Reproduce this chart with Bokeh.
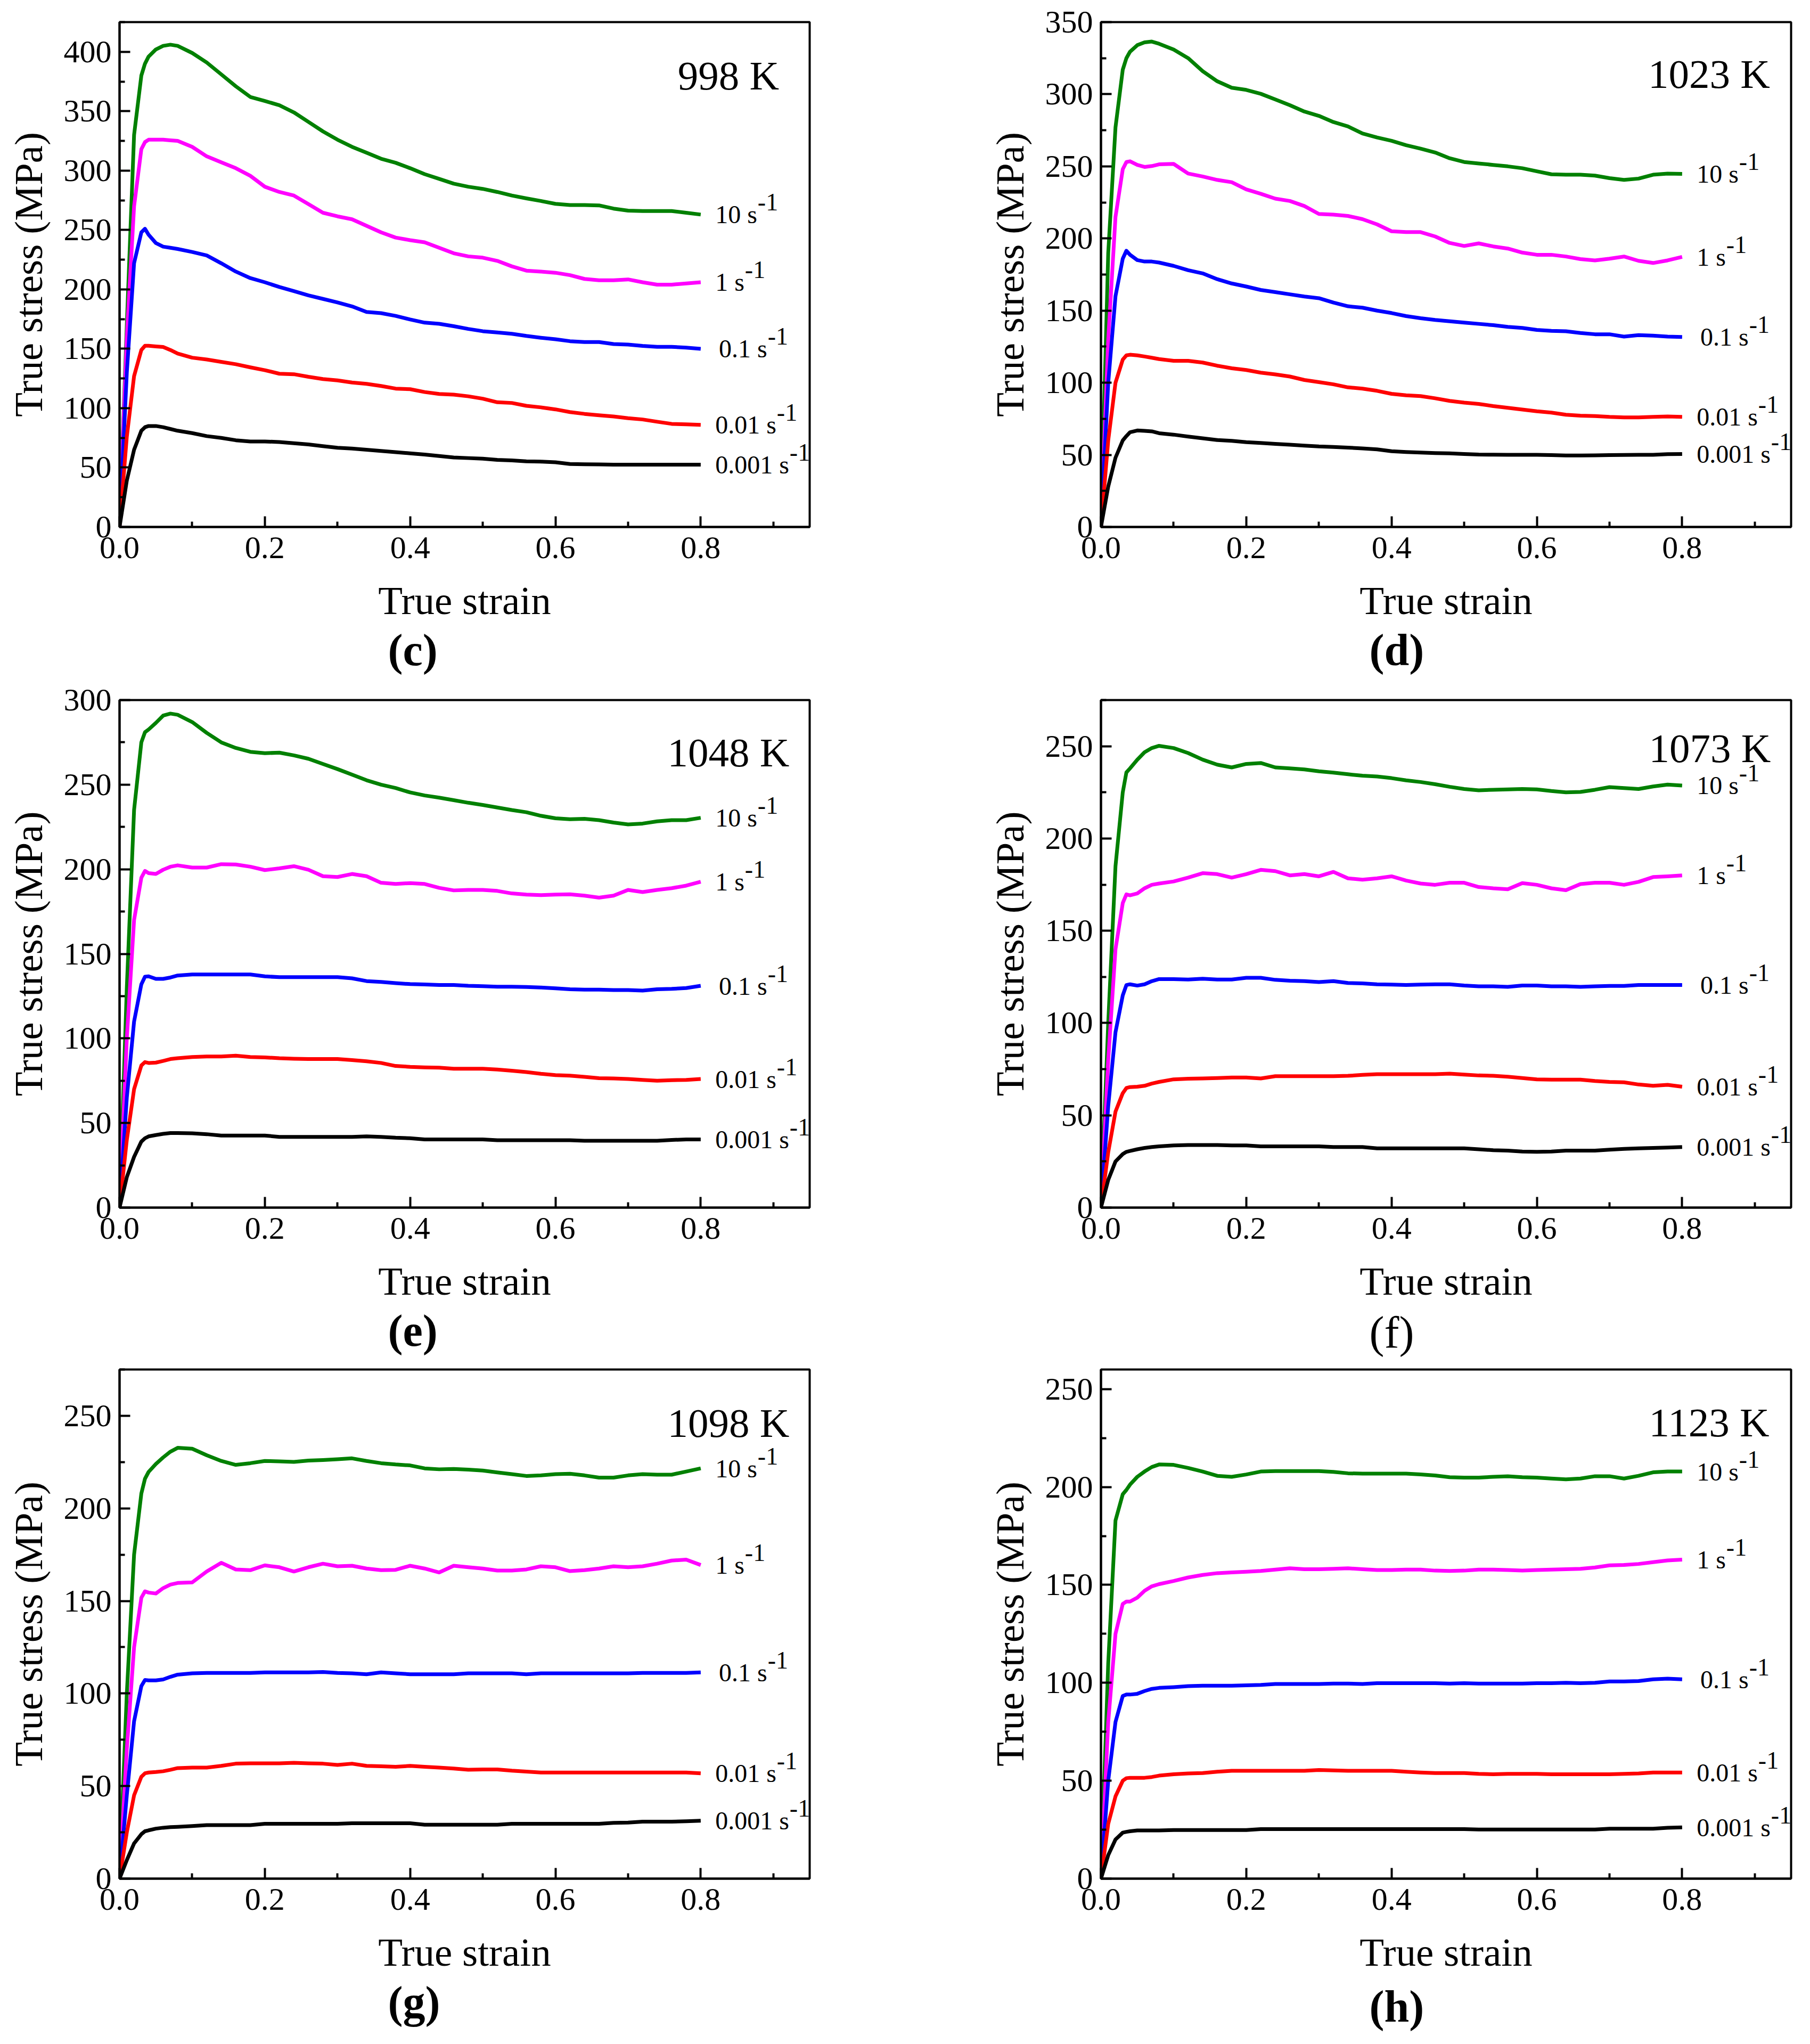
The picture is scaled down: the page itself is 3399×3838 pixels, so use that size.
from bokeh.core.properties import value
from bokeh.embed import file_html
from bokeh.layouts import column, row
from bokeh.models import ColumnDataSource, FixedTicker, NumeralTickFormatter, Range1d, Title
from bokeh.plotting import figure
from bokeh.resources import INLINE

# true strain grid shared by every curve
STRAIN = [0, 0.01, 0.02, 0.03, 0.035, 0.04, 0.05, 0.06, 0.07, 0.08,
          0.10, 0.12, 0.14, 0.16, 0.18, 0.20, 0.22, 0.24, 0.26, 0.28,
          0.30, 0.32, 0.34, 0.36, 0.38, 0.40, 0.42, 0.44, 0.46, 0.48,
          0.50, 0.52, 0.54, 0.56, 0.58, 0.60, 0.62, 0.64, 0.66, 0.68,
          0.70, 0.72, 0.74, 0.76, 0.78, 0.80]

RATES = ["10 s", "1 s", "0.1 s", "0.01 s", "0.001 s"]
TEMPS = ["998 K", "1023 K", "1048 K", "1073 K", "1098 K", "1123 K"]
TAGS = ["c", "d", "e", "f", "g", "h"]
Y_MAX = [425, 350, 300, 275, 275, 260]

# true stress (MPa), one list per strain rate
T998_10 = [0, 170, 330, 380, 390, 396, 402, 405, 406, 405,
           399, 391, 381, 371, 362, 358.6, 355, 349, 341, 333,
           326, 320, 315, 310, 306.6, 302, 297, 293, 289, 286.4,
           284.6, 282, 279, 276.6, 274.4, 272, 271, 271, 270.7, 268,
           266.3, 266, 266, 266, 264.5, 263]
T998_1 = [0, 160, 270, 318, 324, 326, 326, 326, 325.5, 325,
          320, 312, 307, 302, 295.6, 286.4, 282, 279, 271.8, 264.5,
          261.5, 259, 253.5, 248, 243.6, 241.4, 239.6, 235, 230.4, 227.8,
          226.7, 224, 219.4, 215.8, 215, 214, 212, 208.8, 207.7, 207.7,
          208.4, 206, 204, 204, 205, 206]
T998_01 = [0, 130, 222, 248, 251, 246, 239, 236, 235, 234,
           231.5, 228.6, 222, 215, 209.5, 206, 202, 198.5, 195, 192,
           189, 185.7, 181, 180, 177.7, 174.7, 172, 171, 169, 166.7,
           164.8, 163.7, 162.6, 160.8, 159.3, 158, 156.4, 155.7, 155.7, 154,
           153.5, 152.4, 151.6, 151.6, 151, 150]
T998_001 = [0, 76, 127, 149, 152.5, 152.5, 152, 151.5, 149, 146,
            142.5, 141, 139, 137, 134.4, 132, 129, 128.6, 126.4, 124.5,
            123.4, 121.6, 120.5, 118.7, 116.5, 116, 113.6, 112, 111.4, 110,
            108, 105, 104.4, 102, 100.7, 99, 96.7, 95.2, 94, 93,
            91.6, 90.5, 88.6, 86.8, 86.4, 86]
T998_0001 = [0, 39, 65, 81, 84, 85, 85, 84, 82.5, 81,
             79, 76.5, 75, 73, 72, 72, 71.5, 70.5, 69.5, 68,
             66.7, 66, 65, 64, 63, 62, 61, 59.7, 58.5, 58,
             57.5, 56.5, 56, 55.3, 55, 54.5, 53, 52.8, 52.7, 52.5,
             52.4, 52.4, 52.4, 52.4, 52.4, 52.4]

T1023_10 = [0, 190, 277, 317, 325, 329.5, 334, 336, 336.5, 335,
            331, 325, 316, 309, 304.5, 303, 300.3, 296.4, 292.4, 288,
            285, 280.7, 277.7, 272.8, 270, 267.7, 264.7, 262.3, 259.6, 255.6,
            253, 252, 251, 250, 248.7, 246.6, 244.5, 244.2, 244.2, 243.6,
            241.8, 240.6, 241.5, 244.2, 245, 244.8]
T1023_1 = [0, 130, 215, 248, 253, 253.5, 251, 249.6, 250.2, 251.4,
           251.7, 245, 243, 240.6, 239, 234, 231, 227.6, 226, 222.5,
           217, 216.5, 215.6, 213.4, 209.8, 205, 204.4, 204.4, 201.4, 196.9,
           194.8, 196.6, 194.5, 193, 190.2, 188.7, 188.7, 187.5, 185.7, 184.8,
           186, 187.5, 184.5, 183, 184.8, 187.2]
T1023_01 = [0, 100, 160, 186, 191.5, 188.7, 185, 184, 184, 183.3,
            181, 178, 175.8, 171.8, 168.8, 166.7, 164.3, 162.8, 161.3, 159.8,
            158.6, 155.6, 153, 152, 150, 148.3, 146.2, 144.7, 143.5, 142.6,
            141.7, 140.8, 139.9, 138.7, 138, 136.6, 136, 135.7, 134.5, 133.6,
            133.6, 132, 133, 132.6, 132, 131.7]
T1023_001 = [0, 60, 100, 116, 119, 119.4, 119, 118.2, 117.3, 116.4,
             115.2, 115.2, 114, 111.8, 110, 108.8, 107, 105.8, 104.3, 101.9,
             100.4, 98.9, 96.8, 95.9, 94.4, 92.3, 91.3, 90.7, 89.2, 87.4,
             86.2, 85.3, 83.8, 82.6, 81.4, 80.2, 79.3, 77.8, 77.2, 76.9,
             76.3, 76, 76, 76.3, 76.6, 76.3]
T1023_0001 = [0, 28, 48, 60, 63, 65.7, 66.9, 66.6, 66.3, 65,
              64, 62.7, 61.5, 60.3, 59.7, 58.8, 58.2, 57.6, 57, 56.4,
              55.8, 55.5, 55, 54.5, 53.8, 52.5, 52, 51.6, 51.2, 51,
              50.6, 50.2, 50.1, 50, 50, 50, 49.8, 49.6, 49.6, 49.7,
              49.8, 49.9, 50, 50, 50.5, 50.6]

T1048_10 = [0, 130, 235, 275, 281, 282.6, 286.5, 290.8, 292, 291.3,
            287, 280.6, 275, 271.7, 269.4, 268.6, 268.9, 267.3, 265.3, 262.2,
            259.2, 255.9, 252.6, 250, 248, 245.4, 243.6, 242.3, 240.8, 239.3,
            238, 236.5, 235, 233.7, 231.6, 230.1, 229.6, 229.8, 229, 227.6,
            226.5, 227, 228.3, 229, 229, 230.4]
T1048_1 = [0, 100, 170, 195, 199, 197.7, 197.2, 199.7, 201.5, 202.3,
           201, 201, 203, 202.8, 201.5, 199.5, 200.5, 201.8, 199.7, 195.9,
           195.4, 197.2, 195.9, 192, 191.3, 191.8, 191.3, 189, 187.5, 187.8,
           187.8, 187.2, 185.7, 185, 184.7, 185, 185.2, 184.4, 183.2, 184.4,
           187.8, 186.5, 187.8, 188.8, 190.3, 192.6]
T1048_01 = [0, 65, 110, 132, 136.5, 136.7, 135.2, 135.2, 136, 137.2,
            137.8, 137.8, 137.8, 137.8, 137.8, 136.7, 136.2, 136.2, 136.2, 136.2,
            136.2, 135.5, 133.9, 133.4, 132.7, 132.1, 131.9, 131.6, 131.6, 131.1,
            130.9, 130.6, 130.6, 130.4, 130.1, 129.6, 129.1, 128.8, 128.8, 128.6,
            128.6, 128.3, 129.1, 129.3, 129.8, 131.1]
T1048_001 = [0, 40, 70, 84, 86, 85.5, 85.7, 86.7, 87.8, 88.3,
             89, 89.3, 89.3, 89.8, 89, 88.8, 88.3, 88, 87.8, 87.8,
             87.8, 87.2, 86.5, 85.5, 83.7, 83.2, 82.9, 82.7, 82.1, 82.1,
             82.1, 81.6, 80.9, 80.1, 79.1, 78.3, 78, 77.3, 76.5, 76.3,
             76, 75.5, 75, 75.3, 75.5, 76]
T1048_0001 = [0, 18, 30, 39, 41, 42.1, 42.9, 43.6, 44.1, 44.1,
              43.9, 43.4, 42.6, 42.6, 42.6, 42.6, 41.8, 41.8, 41.8, 41.8,
              41.8, 41.8, 42.1, 41.8, 41.3, 41, 40.3, 40.3, 40.3, 40.3,
              40.3, 39.8, 39.8, 39.8, 39.8, 39.8, 39.8, 39.5, 39.5, 39.5,
              39.5, 39.5, 39.5, 40, 40.3, 40.3]

T1073_10 = [0, 100, 185, 225, 235.8, 238, 242.7, 246.7, 249, 250.2,
            249, 246.3, 242.7, 240, 238.5, 240.4, 240.9, 238.5, 238, 237.4,
            236.4, 235.7, 234.8, 234, 233.6, 232.7, 231.5, 230.6, 229.4, 228,
            226.8, 226.1, 226.4, 226.6, 226.8, 226.6, 225.7, 225, 225.2, 226.4,
            227.8, 227.3, 226.8, 228.2, 229.2, 228.7]
T1073_1 = [0, 80, 140, 165, 169.7, 169.2, 170.2, 173, 174.9, 175.6,
           176.7, 178.8, 181.2, 180.7, 178.8, 180.7, 183, 182.3, 180, 180.7,
           179.5, 181.9, 178.4, 177.7, 178.4, 179.5, 177.2, 175.6, 174.9, 176,
           176, 173.7, 173, 172.5, 175.8, 174.9, 173, 172, 175.3, 176,
           176, 174.9, 176.5, 179.1, 179.5, 180]
T1073_01 = [0, 55, 95, 115, 120.6, 121, 120.3, 121, 122.7, 123.8,
            123.8, 123.6, 124, 123.6, 123.6, 124.5, 124.5, 123.4, 122.9, 122.7,
            122.2, 122.7, 121.7, 121.5, 121, 120.8, 120.6, 120.8, 121, 121,
            120.3, 119.9, 119.9, 119.6, 120.3, 120.3, 119.9, 119.9, 119.6, 119.9,
            120.1, 120.1, 120.6, 120.6, 120.6, 120.6]
T1073_001 = [0, 30, 52, 62, 64.8, 65.3, 65.5, 66, 67.2, 68.1,
             69.5, 69.8, 70, 70.2, 70.5, 70.5, 70, 71.2, 71.2, 71.2,
             71.2, 71.2, 71.4, 71.9, 72.3, 72.3, 72.3, 72.3, 72.3, 72.6,
             72.1, 71.6, 71.4, 70.9, 70.2, 69.5, 69.3, 69.3, 69.3, 68.6,
             68.1, 67.9, 66.7, 66, 66.5, 65.5]
T1073_0001 = [0, 15, 25, 29, 30.2, 30.7, 31.6, 32.3, 32.8, 33.2,
              33.7, 33.9, 33.9, 33.9, 33.7, 33.7, 33.2, 33.2, 33.2, 33.2,
              33.2, 32.8, 32.8, 32.8, 32.1, 32.1, 32.1, 32.1, 32.1, 32.1,
              32.1, 31.6, 31.1, 30.9, 30.4, 30.2, 30.4, 30.9, 30.9, 30.9,
              31.4, 31.8, 32.1, 32.3, 32.5, 32.8]

T1098_10 = [0, 100, 175, 208, 216, 219.7, 224, 227.5, 230.6, 232.7,
            232.2, 228.7, 225.6, 223.5, 224.4, 225.6, 225.4, 225.1, 225.8, 226.1,
            226.5, 227, 225.6, 224.4, 223.7, 223.2, 221.6, 221.1, 221.3, 220.9,
            220.4, 219.4, 218.5, 217.5, 217.8, 218.5, 218.7, 217.8, 216.6, 216.6,
            217.8, 218.5, 218.2, 218.2, 219.9, 221.6]
T1098_1 = [0, 70, 125, 151.7, 155.2, 154.5, 154, 156.9, 158.8, 159.7,
           160, 165.9, 170.6, 167, 166.6, 169.2, 168.2, 165.9, 168.2, 170.1,
           168.7, 169, 167.5, 166.6, 166.8, 169, 167.5, 165.4, 169, 168.2,
           167.5, 166.4, 166.4, 167, 168.7, 168.2, 166.1, 166.6, 167.5, 168.7,
           168.2, 168.7, 170.1, 171.8, 172.3, 169.4]
T1098_01 = [0, 45, 85, 104, 107.3, 107.1, 107.1, 107.6, 109, 110.2,
            110.9, 111.1, 111.1, 111.1, 111.1, 111.4, 111.4, 111.4, 111.4, 111.6,
            111.1, 110.9, 110.4, 111.4, 110.9, 110.4, 110.4, 110.4, 110.4, 110.9,
            110.9, 110.9, 110.9, 110.4, 110.9, 110.9, 110.9, 110.9, 110.9, 110.9,
            110.9, 111.1, 111.1, 111.1, 111.1, 111.4]
T1098_001 = [0, 25, 45, 55, 56.9, 57.3, 57.6, 58, 58.8, 59.7,
             60, 60, 60.9, 62.1, 62.3, 62.3, 62.3, 62.6, 62.3, 62.1,
             61.4, 62.1, 60.9, 60.7, 60.4, 60.9, 60.4, 60, 59.5, 58.8,
             59, 59, 58.3, 57.8, 57.3, 57.3, 57.3, 57.3, 57.3, 57.3,
             57.3, 57.3, 57.3, 57.3, 57.3, 56.9]
T1098_0001 = [0, 10, 19, 24, 25.6, 26.1, 27, 27.5, 27.8, 28,
              28.4, 28.9, 28.9, 28.9, 28.9, 29.6, 29.6, 29.6, 29.6, 29.6,
              29.6, 29.9, 29.9, 29.9, 29.9, 29.9, 29.1, 29.1, 29.1, 29.1,
              29.1, 29.1, 29.6, 29.6, 29.6, 29.6, 29.6, 29.6, 29.6, 30.1,
              30.3, 30.8, 30.8, 30.8, 31, 31.3]

T1123_10 = [0, 110, 182.9, 196.3, 198.5, 201.2, 205.2, 207.9, 210.2, 211.5,
            211.3, 209.7, 207.9, 205.7, 205.2, 206.4, 207.9, 208.1, 208.1, 208.1,
            208.1, 207.7, 207, 206.8, 206.8, 206.8, 206.8, 206.4, 205.9, 205,
            204.8, 204.8, 205.2, 205.5, 205, 204.8, 204.3, 203.9, 204.3, 205.5,
            205.5, 204.3, 205.7, 207.5, 207.9, 207.9]
T1123_1 = [0, 80, 125, 140.3, 141.5, 141.5, 143.5, 147, 149.3, 150.4,
           152, 153.8, 155.1, 156, 156.4, 156.7, 157.1, 157.8, 158.5, 158,
           158, 158.2, 158.5, 158, 157.6, 157.6, 157.8, 157.8, 157.3, 157.1,
           157.3, 157.8, 157.8, 157.6, 157.3, 157.6, 157.8, 158, 158.2, 158.9,
           160, 160.2, 160.7, 161.6, 162.5, 162.9]
T1123_01 = [0, 50, 80, 93.3, 94, 94, 94.4, 95.8, 96.9, 97.4,
            97.8, 98.3, 98.5, 98.5, 98.5, 98.7, 98.9, 99.4, 99.4, 99.4,
            99.4, 99.6, 99.6, 99.4, 99.8, 99.8, 99.8, 99.8, 99.8, 99.6,
            99.8, 99.6, 99.6, 99.6, 99.6, 99.8, 99.8, 100, 99.8, 100,
            100.7, 100.7, 100.9, 101.8, 102.1, 101.8]
T1123_001 = [0, 28, 42, 50, 51.3, 51.5, 51.5, 51.5, 51.9, 52.6,
             53.3, 53.7, 53.9, 54.6, 55.1, 55.1, 55.1, 55.1, 55.1, 55.1,
             55.5, 55.3, 55.1, 55.1, 55.1, 55.1, 54.6, 54.2, 53.9, 53.9,
             53.9, 53.5, 53.3, 53.5, 53.5, 53.5, 53.3, 53.3, 53.3, 53.3,
             53.3, 53.5, 53.7, 54.2, 54.2, 54.2]
T1123_0001 = [0, 12, 20, 23.5, 23.9, 24.2, 24.6, 24.6, 24.6, 24.6,
              24.8, 24.8, 24.8, 24.8, 24.8, 24.8, 25.3, 25.3, 25.3, 25.3,
              25.3, 25.3, 25.3, 25.3, 25.3, 25.3, 25.3, 25.3, 25.3, 25.3,
              25.3, 25.1, 25.1, 25.1, 25.1, 25.1, 25.1, 25.1, 25.1, 25.1,
              25.5, 25.5, 25.5, 25.5, 26, 26.2]

CURVES = [
    [T998_10, T998_1, T998_01, T998_001, T998_0001],
    [T1023_10, T1023_1, T1023_01, T1023_001, T1023_0001],
    [T1048_10, T1048_1, T1048_01, T1048_001, T1048_0001],
    [T1073_10, T1073_1, T1073_01, T1073_001, T1073_0001],
    [T1098_10, T1098_1, T1098_01, T1098_001, T1098_0001],
    [T1123_10, T1123_1, T1123_01, T1123_001, T1123_0001],
]

COLORS = ["#008000", "#ff00ff", "#0000ff", "#ff0000", "#000000"]
FONT = "Liberation Serif"

# label anchors in data units
TEMP_POS = [(0.908, 380), (0.921, 314), (0.922, 269), (0.922, 249), (0.922, 246), (0.92, 233)]
RATE_X = [0.82, 0.82, 0.825, 0.82, 0.82]

# page geometry
COL_W = [1843, 1536]
COL_RIGHT = [323, 16]
ROW_H = [1280, 1277, 1265]
TOPS = [29, 41, 34, 27, 14, 12]
CAP_STANDOFF = [0, 0, 0, 6, 2, 18]
FRAME_H = 960

EM = {".": 0.25, " ": 0.25, "s": 0.389}


def text_px(s, size):
    return sum(EM.get(ch, 0.5) for ch in s) * size


def make_panel(i):
    col, r = i % 2, i // 2
    h = ROW_H[r]
    p = figure(width=COL_W[col], height=h, output_backend="svg",
               toolbar_location=None, title_location=None,
               x_range=Range1d(0, 0.95), y_range=Range1d(0, Y_MAX[i]),
               min_border_left=224, min_border_right=COL_RIGHT[col],
               min_border_top=TOPS[i], min_border_bottom=h - TOPS[i] - FRAME_H,
               background_fill_color="white", border_fill_color="white")
    p.xgrid.grid_line_color = None
    p.ygrid.grid_line_color = None
    p.outline_line_color = "black"
    p.outline_line_width = 4
    p.outline_line_alpha = 1

    p.xaxis.ticker = FixedTicker(ticks=[0, 0.2, 0.4, 0.6, 0.8],
                                 minor_ticks=[0.1, 0.3, 0.5, 0.7, 0.9])
    p.xaxis.formatter = NumeralTickFormatter(format="0.0")
    ymax = Y_MAX[i]
    p.yaxis.ticker = FixedTicker(ticks=list(range(0, ymax + 1, 50)),
                                 minor_ticks=list(range(25, ymax + 1, 50)))
    p.xaxis.axis_label = "True strain"
    p.yaxis.axis_label = "True stress (MPa)"
    for ax in (p.xaxis[0], p.yaxis[0]):
        ax.axis_line_width = 4
        ax.major_tick_line_width = 4
        ax.minor_tick_line_width = 4
        ax.major_tick_in = 20
        ax.major_tick_out = 0
        ax.minor_tick_in = 10
        ax.minor_tick_out = 0
        ax.major_label_text_font = FONT
        ax.major_label_text_font_size = "60px"
        ax.major_label_text_color = "black"
        ax.axis_label_text_font = FONT
        ax.axis_label_text_font_size = "75px"
        ax.axis_label_text_font_style = "normal"
        ax.axis_label_text_color = "black"
    p.xaxis.major_label_standoff = 19
    p.xaxis.axis_label_standoff = 35
    p.yaxis.major_label_standoff = 15
    p.yaxis.axis_label_standoff = 22

    curves = CURVES[i]
    for vals, c in zip(curves, COLORS):
        p.line(STRAIN, vals, line_color=c, line_width=7, line_join="round")

    ends = [v[-1] for v in curves]
    base = ColumnDataSource(dict(x=RATE_X, y=ends, text=RATES,
                                 dx=[text_px(s, 48) + 1 for s in RATES]))
    p.text(x="x", y="y", text="text", source=base, text_align="left",
           text_baseline="middle", text_font=value(FONT),
           text_font_size=value("48px"), text_color="black")
    p.text(x="x", y="y", text=value("-1"), source=base, x_offset="dx",
           y_offset=-23, text_align="left", text_baseline="middle",
           text_font=value(FONT), text_font_size=value("46px"),
           text_color="black")

    tx, ty = TEMP_POS[i]
    p.text(x=[tx], y=[ty], text=[TEMPS[i]], text_align="right",
           text_baseline="middle", text_font=value(FONT),
           text_font_size=value("77px"), text_color="black")

    tag = TAGS[i]
    cap = Title(text="(%s)" % tag, align="left", offset=504,
                text_font=FONT, text_font_size="84px",
                text_font_style="normal" if tag == "f" else "bold",
                text_color="black", standoff=CAP_STANDOFF[i])
    p.add_layout(cap, "below")
    return p


panels = [make_panel(i) for i in range(6)]
p = column(row(panels[0], panels[1]), row(panels[2], panels[3]),
           row(panels[4], panels[5]))

open("out.html", "w").write(file_html(p, INLINE))
